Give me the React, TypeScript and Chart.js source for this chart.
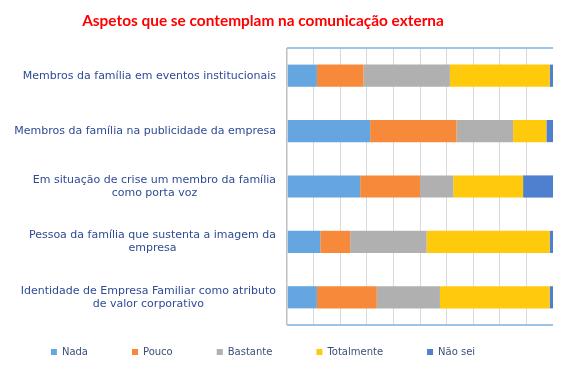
import React, { useEffect, useRef } from "react";
import { Chart, registerables } from "chart.js";

Chart.register(...registerables);

const categories: string[][] = [
  ["Membros da família em eventos institucionais"],
  ["Membros da família na publicidade da empresa"],
  ["Em situação de crise um membro da família", "como porta voz"],
  ["Pessoa da família que sustenta a imagem da", "empresa"],
  ["Identidade de Empresa Familiar como atributo", "de valor corporativo"],
];

const seriesNames = ["Nada", "Pouco", "Bastante", "Totalmente", "Não sei"];
const nada = [11.25, 31.25, 27.5, 12.5, 11.25];
const pouco = [17.5, 32.5, 22.5, 11.25, 22.5];
const bastante = [32.5, 21.25, 12.5, 28.75, 23.75];
const totalmente = [37.5, 12.5, 26.25, 46.25, 41.25];
const naoSei = [1.25, 2.5, 11.25, 1.25, 1.25];
const seriesColors = ["#66a6e0", "#f78a3a", "#b0b0b0", "#ffca0c", "#4f7fcf"];
const titleText = "Aspetos que se contemplam na comunicação externa";

const SHIFT = 27;

export default function App() {
  const ref = useRef<HTMLCanvasElement | null>(null);

  useEffect(() => {
    if (!ref.current) return;
    const values = [nada, pouco, bastante, totalmente, naoSei];

    const labelPlugin = {
      id: "catLabels",
      afterDraw(chart: any) {
        const { ctx, chartArea } = chart;
        const yScale = chart.scales.y;
        ctx.save();
        ctx.font = '11px "DejaVu Sans"';
        ctx.fillStyle = "#2f4b96";
        ctx.textBaseline = "middle";
        ctx.textAlign = "center";
        categories.forEach((lines, i) => {
          const y = yScale.getPixelForTick(i);
          const maxW = Math.max(...lines.map((l) => ctx.measureText(l).width));
          const cx = chartArea.left - 11 - maxW / 2;
          const lh = 13;
          lines.forEach((l, j) => {
            ctx.fillText(l, cx, y + (j - (lines.length - 1) / 2) * lh);
          });
        });
        ctx.strokeStyle = "#9dc3e6";
        ctx.lineWidth = 2;
        ctx.beginPath();
        ctx.moveTo(chartArea.left, chartArea.top);
        ctx.lineTo(chartArea.right, chartArea.top);
        ctx.moveTo(chartArea.left, chartArea.bottom);
        ctx.lineTo(chartArea.right, chartArea.bottom);
        ctx.stroke();
        ctx.restore();
      },
    };

    const legendShift = {
      id: "legendShift",
      afterLayout(chart: any) {
        const l = chart.legend;
        if (l) {
          l.top -= 22;
          l.bottom -= 22;
        }
      },
    };

    const chart = new Chart(ref.current, {
      type: "bar",
      data: {
        labels: categories.map((c) => c.join(" ")),
        datasets: seriesNames.map((name, i) => ({
          label: name,
          data: values[i],
          backgroundColor: seriesColors[i],
          borderWidth: 0,
          barPercentage: 0.4,
          categoryPercentage: 1,
        })),
      },
      options: {
        indexAxis: "y",
        responsive: false,
        animation: false,
        layout: { padding: 0 },
        scales: {
          x: {
            stacked: true,
            min: 0,
            max: 100,
            ticks: { display: false, stepSize: 10 },
            grid: {
              drawTicks: false,
              color: (ctx: any) => (ctx.tick && ctx.tick.value === 0 ? "#bfbfbf" : "#d9d9d9"),
              lineWidth: (ctx: any) => (ctx.tick && ctx.tick.value === 0 ? 1.5 : 1),
            },
            border: { display: false },
          },
          y: {
            stacked: true,
            ticks: { display: false },
            grid: { display: false },
            border: { display: false },
            afterFit: (s: any) => {
              s.width = 314;
            },
          },
        },
        plugins: {
          title: {
            display: true,
            text: titleText,
            color: "#ff0000",
            font: { family: "Lato", size: 15.4, weight: "bold" },
            padding: { top: 11.5, bottom: 18 },
          },
          legend: {
            position: "bottom",
            labels: {
              boxWidth: 6,
              boxHeight: 6,
              padding: 44,
              color: "#3c4f7a",
              font: { family: "DejaVu Sans", size: 10 },
            },
          },
          tooltip: { enabled: false },
        },
      },
      plugins: [labelPlugin, legendShift],
    } as any);
    return () => chart.destroy();
  }, []);

  return (
    <div style={{ position: "fixed", left: -SHIFT, top: 0, width: 580, height: 389 }}>
      <canvas ref={ref} width={580} height={389} style={{ display: "block" }} />
    </div>
  );
}
